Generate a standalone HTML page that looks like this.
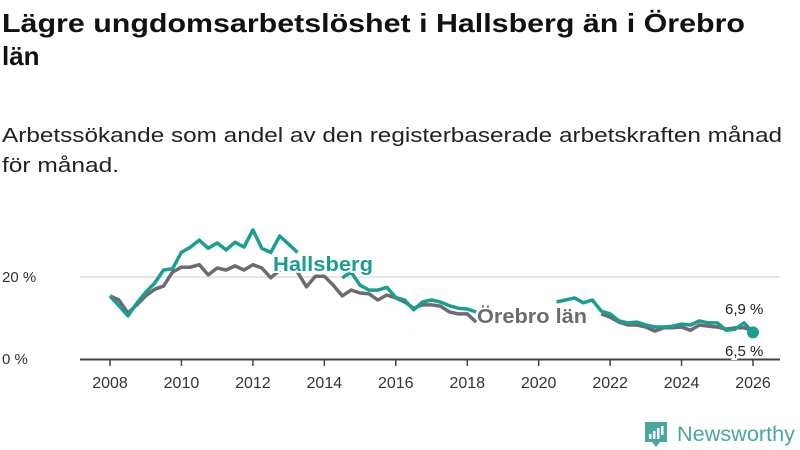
<!DOCTYPE html>
<html><head><meta charset="utf-8"><style>
body{margin:0;width:800px;height:450px;background:#fff;font-family:"Liberation Sans",sans-serif;overflow:hidden}
svg{position:absolute;left:0;top:0}
</style></head><body>
<svg width="800" height="450">
<text x="2" y="32" font-size="26" font-weight="bold" fill="#111" textLength="743" lengthAdjust="spacingAndGlyphs">Lägre ungdomsarbetslöshet i Hallsberg än i Örebro</text>
<text x="2" y="65" font-size="26" font-weight="bold" fill="#111">län</text>
<text x="2" y="142" font-size="20" fill="#222" textLength="780" lengthAdjust="spacingAndGlyphs">Arbetssökande som andel av den registerbaserade arbetskraften månad</text>
<text x="2" y="172" font-size="20" fill="#222" textLength="117" lengthAdjust="spacingAndGlyphs">för månad.</text>
<g id="grid"></g><g id="axis"></g><g id="lines"></g><g id="labels"></g>
<g>
<path d="M645 422h22v20h-7l-4 5-4-5h-7z" fill="#4aa89b"/>
<rect x="649" y="434" width="2.5" height="5" fill="#fff"/><rect x="653" y="431" width="2.5" height="8" fill="#fff"/><rect x="657" y="428" width="2.5" height="11" fill="#fff"/><rect x="661" y="426" width="2.5" height="9" fill="#fff"/>
<text x="677" y="441" font-size="21" fill="#4aa89b" textLength="118" lengthAdjust="spacingAndGlyphs">Newsworthy</text>
</g>
</svg>
<script>
const years=[2008,2010,2012,2014,2016,2018,2020,2022,2024,2026];
const yTicks=[0,20];
const start=2008, step=0.25;
const hallsberg=[15.4,13,10.5,13.6,16.3,18.5,21.7,22,26,27.3,29,27,28.3,26.6,28.5,27.3,31.5,27,26,30,28,26,null,null,null,null,19.8,21.2,18,16.8,16.8,17.5,15,14.4,12,13.9,14.4,13.9,13,12.4,12.2,11.5,null,null,null,null,null,null,null,null,13.9,14.4,14.9,13.7,14.4,11.7,11,9.3,8.8,9,8.3,7.8,7.8,8,8.5,8.3,9.3,8.8,8.8,7,7.3,8.8,6.5];
const orebro=[15.4,14.4,11.2,13.2,15.4,17,17.8,21.2,22.4,22.4,23,20.5,22.2,21.7,22.7,21.7,23,22.2,19.8,21.7,null,21.2,17.6,20.2,20.2,18,15.4,16.8,16.1,15.9,14.4,15.6,14.9,13.9,12.4,13.2,13.2,12.9,11.5,11,11,9,null,null,null,null,null,null,null,null,null,null,null,null,null,11,10.2,9,8.3,8.3,7.8,6.8,7.6,7.6,7.8,7,8.3,8,7.8,7.3,7.6,7.6,6.9];
const X=v=>110+(v-2008)*(753-110)/18, Y=v=>359-v*4.1;
const NS='http://www.w3.org/2000/svg';
function mk(t,a,p){const e=document.createElementNS(NS,t);for(const k in a)e.setAttribute(k,a[k]);p.appendChild(e);return e;}
const grid=document.getElementById('grid'),axis=document.getElementById('axis'),lines=document.getElementById('lines'),labels=document.getElementById('labels');
yTicks.forEach(t=>{
 if(t>0){const l=mk('line',{x1:80,x2:780,y1:Y(t),y2:Y(t),stroke:'#ddd','stroke-width':1.5},grid);
 
 }
 const tx=mk('text',{x:2,y:Y(t)+5,'font-size':15,fill:'#333'},grid);tx.textContent=t+' %';
 
 
});
const ax=mk('line',{x1:80,x2:780,y1:359.5,y2:359.5,stroke:'#444','stroke-width':2},axis);


years.forEach(y=>{
 mk('line',{x1:X(y),x2:X(y),y1:360,y2:366,stroke:'#444','stroke-width':1.5},axis);
 const t=mk('text',{x:X(y),y:388,'font-size':16,fill:'#333','text-anchor':'middle'},axis);t.textContent=y;
 
 
});
function path(arr){let d='',pen=false;arr.forEach((v,i)=>{if(v==null){pen=false;return;}d+=(pen?'L':'M')+X(start+i*step).toFixed(1)+' '+Y(v).toFixed(1);pen=true;});return d;}
const g=mk('path',{d:path(orebro),fill:'none',stroke:'#6d6a70','stroke-width':3.5,'stroke-linejoin':'round'},lines);


const h=mk('path',{d:path(hallsberg),fill:'none',stroke:'#1a9e8f','stroke-width':3.5,'stroke-linejoin':'round'},lines);


const last=hallsberg.length-1;
const dot=mk('circle',{cx:X(start+last*step),cy:Y(hallsberg[last]),r:6,fill:'#1a9e8f'},lines);


function lab(txt,x,y,fill,size,bold,name,len){
 const a={x:x,y:y,'font-size':size,fill:fill,'font-weight':bold?'bold':'normal',stroke:'#fff','stroke-width':4,'paint-order':'stroke'};
 if(len){a.textLength=len;a.lengthAdjust='spacingAndGlyphs';}
 const t=mk('text',a,labels);t.textContent=txt;
 
 
}
lab('Hallsberg',273,271,'#1a9e8f',20,true,'hallsberg-label',100);
lab('Örebro län',477,323,'#6d6a70',20,true,'orebro-label',110);
lab(String(orebro[orebro.length-1]).replace('.',',')+' %',725,314,'#222',15,false,'orebro-end-value');
lab(String(hallsberg[last]).replace('.',',')+' %',725,356,'#222',15,false,'hallsberg-end-value');
</script>
</body></html>
